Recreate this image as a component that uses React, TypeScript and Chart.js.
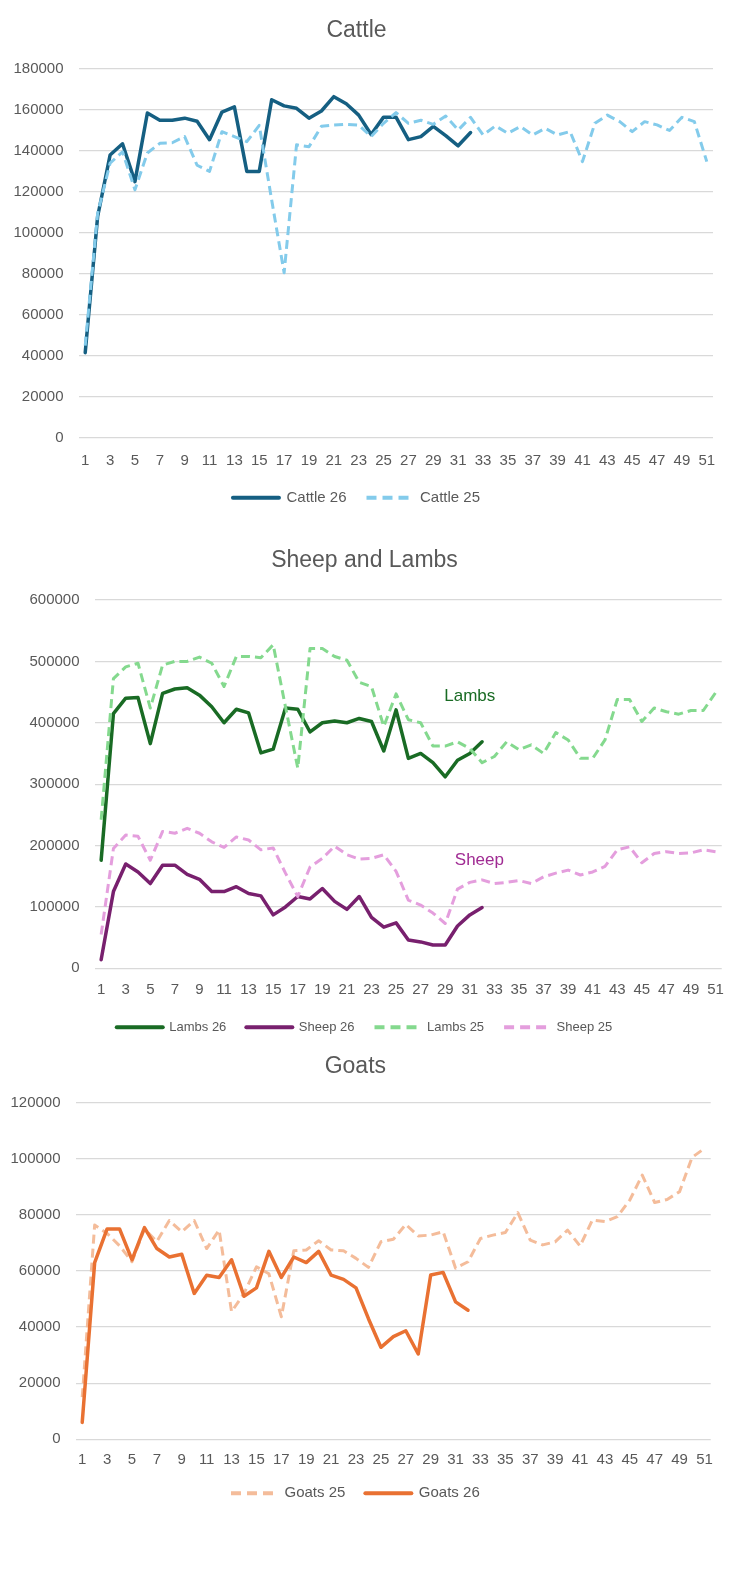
import React, { useEffect, useRef } from "react";
import { Chart, registerables } from "chart.js";

Chart.register(...registerables);

const FONT = '"Liberation Sans", Arial, sans-serif';
Chart.defaults.font.family = FONT;

const weeks = [
  "1", "2", "3", "4", "5", "6", "7", "8", "9", "10",
  "11", "12", "13", "14", "15", "16", "17", "18", "19", "20",
  "21", "22", "23", "24", "25", "26", "27", "28", "29", "30",
  "31", "32", "33", "34", "35", "36", "37", "38", "39", "40",
  "41", "42", "43", "44", "45", "46", "47", "48", "49", "50", "51",
];

const cattle26 = [41500, 108000, 138000, 143500, 125000, 158500, 155000, 155000, 156000, 154500, 145500, 159000, 161500, 130000, 130000, 165000, 162000, 160800, 156000, 159500, 166500, 163000, 157500, 148000, 156500, 156500, 145500, 147000, 152000, 147500, 142500, 149000];
const cattle25 = [45000, 109500, 134000, 139600, 121000, 139000, 143700, 144000, 147000, 133000, 130000, 149400, 147000, 144500, 152500, 116000, 80500, 143000, 142000, 152000, 152600, 153000, 152600, 147000, 153500, 158700, 153500, 155000, 153000, 157000, 150200, 156400, 147800, 152200, 148600, 151900, 147800, 151000, 147800, 149500, 134800, 153500, 157500, 154300, 149400, 154300, 152700, 150000, 156400, 154300, 134800];

const lambs26 = [176000, 415000, 440000, 441000, 366000, 448000, 455000, 457000, 445000, 426000, 400000, 422000, 416000, 351000, 357000, 424000, 422000, 385000, 400000, 403000, 400000, 407000, 402000, 354000, 421000, 342000, 350000, 335000, 312000, 339000, 350000, 369000];
const sheep26 = [14000, 125000, 170000, 157000, 138000, 168000, 168000, 153000, 145000, 125000, 125000, 133000, 122000, 118000, 87000, 100000, 117000, 113000, 130000, 109000, 96000, 117000, 83000, 67000, 74000, 46000, 43000, 38000, 38000, 69000, 87000, 99000];
const lambs25 = [242000, 472000, 491000, 497000, 424000, 494000, 500000, 500000, 507000, 497000, 459000, 508000, 508000, 506000, 527000, 426000, 326000, 521000, 521000, 508000, 502000, 466000, 459000, 394000, 447000, 405000, 400000, 362000, 362000, 369000, 358000, 335000, 345000, 369000, 356000, 364000, 350000, 384000, 372000, 342000, 342000, 372000, 438000, 438000, 402000, 424000, 418000, 414000, 420000, 420000, 449000];
const sheep25 = [55000, 195000, 217000, 215000, 176000, 223000, 220000, 228000, 220000, 206000, 197000, 214000, 209000, 193000, 196000, 155000, 117000, 165000, 179000, 199000, 185000, 178000, 179000, 185000, 158000, 111000, 103000, 90000, 73000, 129000, 140000, 144000, 138000, 140000, 143000, 138000, 149000, 155000, 160000, 152000, 157000, 166000, 193000, 198000, 172000, 187000, 190000, 187000, 188000, 193000, 190000];

const goats25 = [15000, 76400, 73400, 69000, 63300, 75000, 70500, 78000, 74000, 78000, 68000, 74600, 45500, 52000, 61500, 59000, 43700, 67200, 67500, 70800, 67500, 67200, 64500, 61300, 70400, 71300, 76600, 72500, 72800, 74000, 61000, 63300, 71600, 72800, 73700, 80800, 71000, 69300, 70400, 74600, 68900, 78200, 77600, 79400, 85300, 94200, 84400, 85500, 88300, 100500, 103700];
const goats26 = [6000, 63000, 75000, 75000, 64000, 75500, 68000, 65000, 66000, 52000, 58500, 57700, 64000, 51000, 54000, 67000, 57700, 65000, 63000, 67000, 58500, 57000, 54000, 43000, 32800, 36600, 38700, 30400, 58600, 59500, 49000, 46000];

const sheepNotes = [
  { text: "Lambs", week: 30, value: 442500, color: "#196B24" },
  { text: "Sheep", week: 30.78, value: 176400, color: "#A02B93" },
];

type Series = { label: string; data: number[]; color: string; dashed: boolean };
type Spec = {
  title: string;
  series: Series[];
  yMax: number;
  yStep: number;
  titleTop: number;
  titleBottom: number;
  yWidth: number;
  rightPad: number;
  xHeight: number;
  xPad: number;
  legendSize: number;
  bottomPad: number;
  notes?: { text: string; week: number; value: number; color: string }[];
};

const GREY = "#595959";

function buildConfig(spec: Spec): any {
  const n = spec.series.length;
  const notesPlugin = {
    id: "notes",
    afterDatasetsDraw(chart: any) {
      if (!spec.notes) return;
      const ctx = chart.ctx;
      ctx.save();
      ctx.font = `17px ${FONT}`;
      ctx.textAlign = "center";
      ctx.textBaseline = "middle";
      spec.notes.forEach((nt) => {
        ctx.fillStyle = nt.color;
        ctx.fillText(nt.text, chart.scales.x.getPixelForValue(nt.week), chart.scales.y.getPixelForValue(nt.value));
      });
      ctx.restore();
    },
  };
  return {
    type: "line",
    data: {
      labels: weeks,
      datasets: spec.series.map((s, i) => ({
        label: s.label,
        data: s.data,
        borderColor: s.color,
        backgroundColor: s.color,
        borderWidth: s.dashed ? 3 : 3.5,
        borderDash: s.dashed ? [9, 5] : [],
        borderCapStyle: s.dashed ? "butt" : "round",
        borderJoinStyle: "round",
        pointRadius: 0,
        pointHoverRadius: 0,
        tension: 0,
        fill: false,
        order: n - 1 - i,
      })),
    },
    options: {
      animation: false,
      responsive: false,
      events: [],
      layout: { padding: { left: 0, right: spec.rightPad, top: 0, bottom: spec.bottomPad } },
      plugins: {
        title: {
          display: true,
          text: spec.title,
          color: GREY,
          font: { size: 23, weight: "normal", lineHeight: 1.2 },
          padding: { top: spec.titleTop, bottom: spec.titleBottom },
        },
        legend: {
          position: "bottom",
          labels: {
            usePointStyle: true,
            pointStyle: "line",
            pointStyleWidth: 46,
            padding: 20,
            color: GREY,
            font: { size: spec.legendSize },
            generateLabels: (chart: any) =>
              chart.data.datasets.map((ds: any, i: number) => ({
                text: ds.label,
                fillStyle: ds.borderColor,
                strokeStyle: ds.borderColor,
                fontColor: GREY,
                lineWidth: 4,
                lineDash: ds.borderDash && ds.borderDash.length ? [10, 6] : [],
                lineDashOffset: 0,
                lineCap: ds.borderDash && ds.borderDash.length ? "butt" : "round",
                lineJoin: "round",
                pointStyle: "line",
                hidden: false,
                datasetIndex: i,
              })),
          },
        },
        tooltip: { enabled: false },
      },
      scales: {
        x: {
          type: "category",
          offset: true,
          grid: { display: false, drawTicks: false },
          border: { display: false },
          ticks: {
            autoSkip: false,
            maxRotation: 0,
            minRotation: 0,
            padding: spec.xPad,
            color: GREY,
            font: { size: 15 },
            callback: (_v: any, i: number) => (i % 2 === 0 ? weeks[i] : ""),
          },
          afterFit: (s: any) => {
            s.height = spec.xHeight;
          },
        },
        y: {
          min: 0,
          max: spec.yMax,
          grid: { color: "#D9D9D9", lineWidth: 1.3, drawTicks: false },
          border: { display: false },
          ticks: {
            stepSize: spec.yStep,
            padding: 15.5,
            color: GREY,
            font: { size: 15 },
            callback: (v: any) => String(v),
          },
          afterFit: (s: any) => {
            s.width = spec.yWidth;
          },
        },
      },
    },
    plugins: [notesPlugin],
  };
}

const cattleSpec: Spec = {
  title: "Cattle",
  series: [
    { label: "Cattle 26", data: cattle26, color: "#155F82", dashed: false },
    { label: "Cattle 25", data: cattle25, color: "#83CBEB", dashed: true },
  ],
  yMax: 180000,
  yStep: 20000,
  titleTop: 17.2,
  titleBottom: 24.2,
  yWidth: 79,
  rightPad: 24,
  xHeight: 32.5,
  xPad: 14,
  legendSize: 15,
  bottomPad: 4.8,
};

const sheepSpec: Spec = {
  title: "Sheep and Lambs",
  series: [
    { label: "Lambs 26", data: lambs26, color: "#196B24", dashed: false },
    { label: "Sheep 26", data: sheep26, color: "#78206E", dashed: false },
    { label: "Lambs 25", data: lambs25, color: "#84D98E", dashed: true },
    { label: "Sheep 25", data: sheep25, color: "#E49EDD", dashed: true },
  ],
  yMax: 600000,
  yStep: 100000,
  titleTop: 27.2,
  titleBottom: 25.2,
  yWidth: 95,
  rightPad: 8,
  xHeight: 32.5,
  xPad: 13,
  legendSize: 13,
  bottomPad: 2.2,
  notes: sheepNotes,
};

const goatsSpec: Spec = {
  title: "Goats",
  series: [
    { label: "Goats 25", data: goats25, color: "#F4BC9A", dashed: true },
    { label: "Goats 26", data: goats26, color: "#E97132", dashed: false },
  ],
  yMax: 120000,
  yStep: 20000,
  titleTop: 7,
  titleBottom: 22.1,
  yWidth: 76,
  rightPad: 26.3,
  xHeight: 26.5,
  xPad: 12,
  legendSize: 15,
  bottomPad: 63.2,
};

function LineChart({ spec, top, height }: { spec: Spec; top: number; height: number }) {
  const ref = useRef<HTMLCanvasElement | null>(null);
  useEffect(() => {
    if (!ref.current) return;
    const chart = new Chart(ref.current, buildConfig(spec));
    return () => chart.destroy();
  }, [spec]);
  return (
    <div style={{ position: "absolute", left: 0, top, width: 737, height }}>
      <canvas ref={ref} width={737} height={height} style={{ display: "block", width: 737, height }} />
    </div>
  );
}

export default function App() {
  return (
    <div style={{ position: "absolute", left: 0, top: 0, width: 737, height: 1574, background: "#FFFFFF" }}>
      <LineChart spec={cattleSpec} top={0} height={520} />
      <LineChart spec={sheepSpec} top={520} height={526} />
      <LineChart spec={goatsSpec} top={1046} height={528} />
    </div>
  );
}
